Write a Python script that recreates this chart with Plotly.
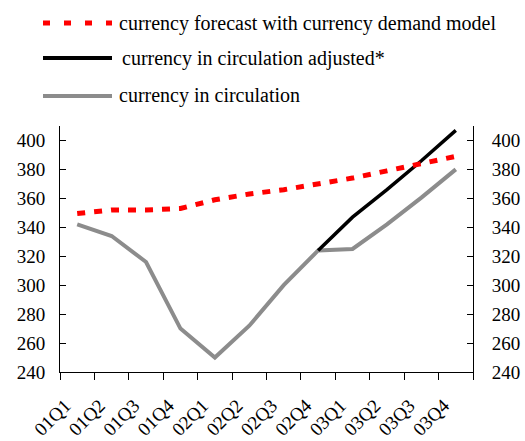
import plotly.graph_objects as go

# Quarterly periods
quarters = ["01Q1", "01Q2", "01Q3", "01Q4", "02Q1", "02Q2",
            "02Q3", "02Q4", "03Q1", "03Q2", "03Q3", "03Q4"]

# Currency forecast with currency demand model
forecast = [349.5, 352, 352, 353, 359, 363, 366, 370, 374, 379, 384, 389]

# Currency in circulation adjusted* (from 02Q4 onward)
adjusted = [None, None, None, None, None, None, None, 324, 347, 366, 386, 407]

# Currency in circulation
circulation = [342, 334, 316, 270, 250, 272, 300, 324, 325, 342, 360.5, 380]

legend_labels = [
    "currency forecast with currency demand model",
    "currency in circulation adjusted*",
    "currency in circulation",
]

FONT = "'Liberation Serif', 'Times New Roman', 'DejaVu Serif', serif"
RED = "#ff0000"
BLACK = "#000000"
GRAY = "#8c8c8c"

W, H = 525, 441
L, R, T, B = 60, 52, 126, 69
pw, ph = W - L - R, H - T - B


def px(x):
    return (x - L) / pw


def py(y):
    return (H - B - y) / ph


fig = go.Figure()

fig.add_trace(go.Scatter(
    x=quarters, y=circulation, mode="lines",
    line=dict(color=GRAY, width=4), name=legend_labels[2],
))
fig.add_trace(go.Scatter(
    x=quarters, y=adjusted, mode="lines",
    line=dict(color=BLACK, width=3.5), name=legend_labels[1],
))
fig.add_trace(go.Scatter(
    x=quarters, y=forecast, mode="lines",
    line=dict(color=RED, width=5, dash="8px,9px"), name=legend_labels[0],
))

# Legend drawn as line samples with labels above the plot
legend_rows = [
    (23, RED, 5, "7px,14px", 117),
    (58, BLACK, 4, "solid", 120),
    (96, GRAY, 4, "solid", 117),
]
shapes = []
annotations = []
for (yy, col, wdt, dsh, tx), label in zip(legend_rows, legend_labels):
    shapes.append(dict(
        type="line", xref="paper", yref="paper",
        x0=px(43), x1=px(112), y0=py(yy), y1=py(yy),
        line=dict(color=col, width=wdt, dash=dsh),
    ))
    annotations.append(dict(
        xref="paper", yref="paper", x=px(tx), y=py(yy),
        xanchor="left", yanchor="middle", showarrow=False,
        text=label, font=dict(family=FONT, size=20, color="#000000"),
    ))

yaxis_common = dict(
    range=[240, 410], tickvals=[240, 260, 280, 300, 320, 340, 360, 380, 400],
    showgrid=False, zeroline=False, showline=True, linecolor="#000000",
    linewidth=1, ticks="inside", ticklen=6, tickcolor="#000000",
    automargin=False,
    tickfont=dict(family=FONT, size=19, color="#000000"),
)

fig.update_layout(
    width=W, height=H,
    margin=dict(l=L, r=R, t=T, b=B, pad=0, autoexpand=False),
    paper_bgcolor="#ffffff", plot_bgcolor="#ffffff",
    font=dict(family=FONT, size=19, color="#000000"),
    showlegend=False,
    shapes=shapes, annotations=annotations,
    xaxis=dict(
        type="category", range=[-0.5, 11.5],
        tickson="boundaries", ticks="outside", ticklen=7,
        tickcolor="#000000", showline=True, linecolor="#000000",
        linewidth=1, showgrid=False, zeroline=False, automargin=False,
        tickangle=-45, ticklabelstandoff=14, ticklabelshift=-12,
        tickfont=dict(family=FONT, size=19, color="#000000"),
    ),
    yaxis=dict(side="left", ticklabelstandoff=10, **yaxis_common),
    yaxis2=dict(side="right", overlaying="y", anchor="x",
                ticklabelstandoff=14, **yaxis_common),
)

# Invisible trace so the right-hand axis is drawn
fig.add_trace(go.Scatter(
    x=quarters, y=circulation, yaxis="y2", mode="lines",
    line=dict(width=0), opacity=0, hoverinfo="skip", showlegend=False,
))

fig.write_html("out.html")
